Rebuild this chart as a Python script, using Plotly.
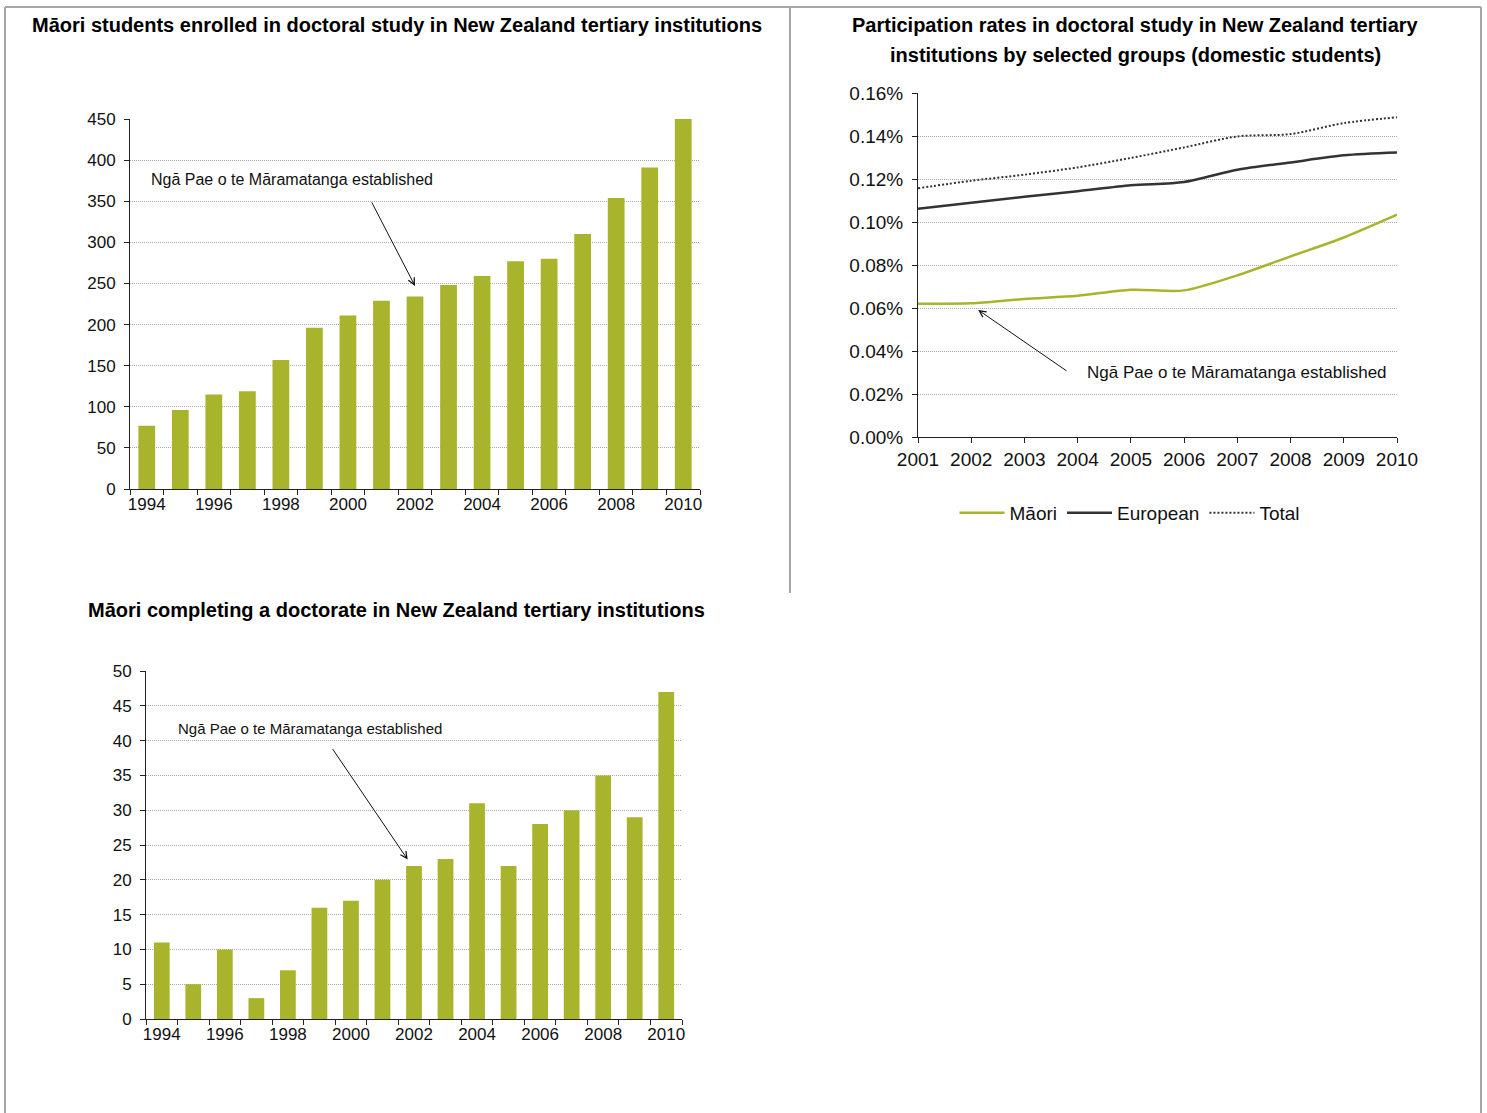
import plotly.graph_objects as go

# ---------------- data ----------------
bar_years = list(range(1994, 2011))
enrolled = [77, 96, 115, 119, 157, 196, 211, 229, 234, 248, 259, 277, 280, 310, 354, 391, 450]
completed = [11, 5, 10, 3, 7, 16, 17, 20, 22, 23, 31, 22, 28, 30, 35, 29, 47]

line_years = list(range(2001, 2011))
maori_pct = [0.0620, 0.0622, 0.0642, 0.0657, 0.0685, 0.0682, 0.0752, 0.0840, 0.0928, 0.1034]
european_pct = [0.1062, 0.1090, 0.1117, 0.1143, 0.1171, 0.1186, 0.1243, 0.1277, 0.1310, 0.1323]
total_pct = [0.1157, 0.1192, 0.1220, 0.1254, 0.1298, 0.1347, 0.1398, 0.1409, 0.1460, 0.1487]

bar_ticks = list(range(1994, 2011, 2))
enrolled_ticks = list(range(0, 451, 50))
completed_ticks = list(range(0, 51, 5))
rate_ticks = [0.0, 0.0002, 0.0004, 0.0006, 0.0008, 0.0010, 0.0012, 0.0014, 0.0016]

title1 = "Māori students enrolled in doctoral study in New Zealand tertiary institutions"
title2a = "Participation rates in doctoral study in New Zealand tertiary"
title2b = "institutions by selected groups (domestic students)"
title3 = "Māori completing a doctorate in New Zealand tertiary institutions"
note = "Ngā Pae o te Māramatanga established"

# ---------------- style ----------------
W, H = 1487, 1113
GREEN = "#A8B42C"
DARK = "#333333"
GRID = "#a8a8a8"
BORDER = "#a6a6a6"
FONT = "Liberation Sans, Arial, sans-serif"


def px(x):
    return x / W


def py(y):
    return 1 - y / H


fig = go.Figure()

fig.add_trace(go.Bar(x=bar_years, y=enrolled, marker=dict(color=GREEN, line=dict(width=0)),
                     xaxis="x", yaxis="y", showlegend=False))
fig.add_trace(go.Bar(x=bar_years, y=completed, marker=dict(color=GREEN, line=dict(width=0)),
                     xaxis="x3", yaxis="y3", showlegend=False))

fig.add_trace(go.Scatter(x=line_years, y=[v / 100 for v in maori_pct], name="Māori", mode="lines",
                         line=dict(color=GREEN, width=2.5, shape="spline", smoothing=0.8),
                         xaxis="x2", yaxis="y2"))
fig.add_trace(go.Scatter(x=line_years, y=[v / 100 for v in european_pct], name="European", mode="lines",
                         line=dict(color=DARK, width=2.5, shape="spline", smoothing=0.8),
                         xaxis="x2", yaxis="y2"))
fig.add_trace(go.Scatter(x=line_years, y=[v / 100 for v in total_pct], name="Total", mode="lines",
                         line=dict(color=DARK, width=2, dash="2px,2px", shape="spline", smoothing=0.8),
                         xaxis="x2", yaxis="y2"))

axis_common = dict(showline=True, linecolor="#222222", linewidth=1, automargin=False,
                   tickfont=dict(family=FONT, size=17, color="#111111"), fixedrange=True)

bar_x = dict(axis_common, range=[1993.5, 2010.5], tickmode="array", tickvals=bar_ticks,
             ticks="", showgrid=False, zeroline=False,
             minor=dict(tick0=1993.5, dtick=1, ticks="outside", ticklen=5, tickcolor="#222222",
                        showgrid=False))
bar_y = dict(axis_common, ticks="outside", ticklen=5, tickcolor="#222222", ticklabelstandoff=5,
             showgrid=True, gridcolor=GRID, griddash="1px,1px", gridwidth=1, zeroline=False)

fig.update_layout(
    width=W, height=H, autosize=False,
    margin=dict(l=0, r=0, t=0, b=0, pad=0, autoexpand=False),
    paper_bgcolor="white", plot_bgcolor="white",
    font=dict(family=FONT, color="#111111"),
    bargap=0.5,
    xaxis=dict(bar_x, domain=[px(130), px(700)], anchor="y"),
    yaxis=dict(bar_y, domain=[py(489), py(119)], range=[0, 450], tickvals=enrolled_ticks, anchor="x"),
    xaxis3=dict(bar_x, domain=[px(146), px(682)], anchor="y3"),
    yaxis3=dict(bar_y, domain=[py(1019), py(671)], range=[0, 50], tickvals=completed_ticks, anchor="x3"),
    xaxis2=dict(axis_common, domain=[px(918), px(1397)], range=[2001, 2010], dtick=1,
                ticks="outside", ticklen=5, tickcolor="#222222", showgrid=False, zeroline=False,
                anchor="y2", tickfont=dict(family=FONT, size=19, color="#111111")),
    yaxis2=dict(axis_common, domain=[py(437), py(93)], range=[0, 0.0016], tickvals=rate_ticks,
                tickformat=".2%", ticks="outside", ticklen=5, tickcolor="#222222", ticklabelstandoff=5,
                showgrid=True, gridcolor=GRID, griddash="1px,1px", gridwidth=1, zeroline=False,
                anchor="x2", tickfont=dict(family=FONT, size=19, color="#111111")),
    legend=dict(orientation="h", x=px(1130), xanchor="center", y=py(513), yanchor="middle",
                font=dict(family=FONT, size=19, color="#111111"), bgcolor="rgba(0,0,0,0)",
                itemwidth=45, tracegroupgap=0),
)

# titles
title_font = dict(family=FONT, size=20, color="#000000")
fig.add_annotation(text="<b>" + title1 + "</b>", xref="paper", yref="paper", x=px(397), y=py(25),
                   showarrow=False, font=title_font, xanchor="center", yanchor="middle")
fig.add_annotation(text="<b>" + title2a + "</b>", xref="paper", yref="paper",
                   x=px(1135), y=py(25), showarrow=False, font=title_font, xanchor="center",
                   yanchor="middle")
fig.add_annotation(text="<b>" + title2b + "</b>", xref="paper", yref="paper",
                   x=px(1135), y=py(55), showarrow=False, font=title_font, xanchor="center",
                   yanchor="middle")
fig.add_annotation(text="<b>" + title3 + "</b>", xref="paper", yref="paper", x=px(397), y=py(610),
                   showarrow=False, font=title_font, xanchor="center", yanchor="middle")

# notes + arrows
fig.add_annotation(text=note, xref="x", yref="y", x=1994.07, y=376, showarrow=False,
                   xanchor="left", yanchor="middle", font=dict(family=FONT, size=16, color="#111111"))
fig.add_annotation(text="", xref="x", yref="y", x=2002, y=247, ax=-44, ay=-85,
                   showarrow=True, arrowhead=5, arrowsize=1.3, arrowwidth=1, arrowcolor="#111111")

fig.add_annotation(text=note, xref="x3", yref="y3", x=1994.45, y=41.8, showarrow=False,
                   xanchor="left", yanchor="middle", font=dict(family=FONT, size=15, color="#111111"))
fig.add_annotation(text="", xref="x3", yref="y3", x=2001.8, y=22.9, ax=-76, ay=-112,
                   showarrow=True, arrowhead=5, arrowsize=1.3, arrowwidth=1, arrowcolor="#111111")

fig.add_annotation(text=note, xref="x2", yref="y2", x=2004.14, y=0.000302, showarrow=False,
                   xanchor="left", yanchor="middle", font=dict(family=FONT, size=17, color="#111111"))
fig.add_annotation(text="", xref="x2", yref="y2", x=2002.13, y=0.000591, ax=90, ay=62,
                   showarrow=True, arrowhead=5, arrowsize=1.3, arrowwidth=1, arrowcolor="#111111")

# frame lines
line_style = dict(color=BORDER, width=2)
fig.add_shape(type="line", xref="paper", yref="paper", x0=px(5), x1=px(1481), y0=py(7), y1=py(7), line=line_style)
fig.add_shape(type="line", xref="paper", yref="paper", x0=px(5), x1=px(5), y0=py(7), y1=py(1113), line=line_style)
fig.add_shape(type="line", xref="paper", yref="paper", x0=px(1481), x1=px(1481), y0=py(7), y1=py(1113), line=line_style)
fig.add_shape(type="line", xref="paper", yref="paper", x0=px(790), x1=px(790), y0=py(7), y1=py(593), line=line_style)

fig.write_html("out.html", config={"displayModeBar": False},
               post_script="document.body.style.margin='0';document.body.style.overflow='hidden';")
